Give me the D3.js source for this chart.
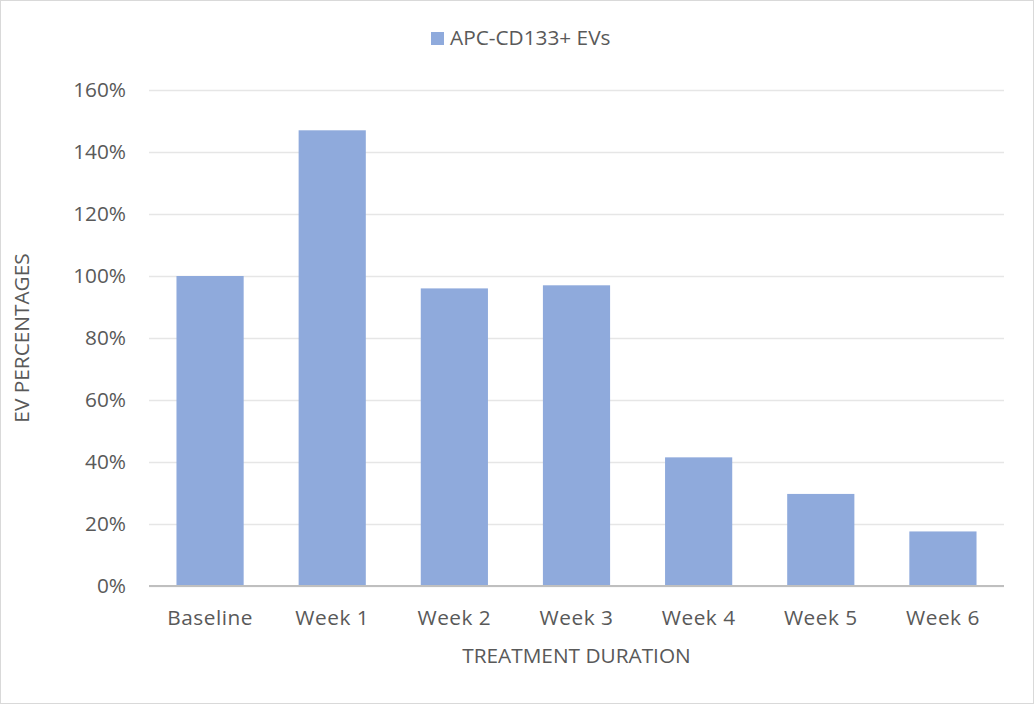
<!DOCTYPE html>
<html>
<head>
<meta charset="utf-8">
<script src="https://cdn.jsdelivr.net/npm/d3@7"></script>
<style>
  html, body { margin: 0; padding: 0; background: #fff; }
  svg { display: block; font-family: "Open Sans", "Liberation Sans", sans-serif; }
</style>
</head>
<body>
<svg id="chart" width="1034" height="704"></svg>
<script>
// Categories and values (percent of baseline)
const categories = ["Baseline", "Week 1", "Week 2", "Week 3", "Week 4", "Week 5", "Week 6"];
const values = [100, 147, 96, 97, 41.5, 29.7, 17.6];
const seriesName = "APC-CD133+ EVs";
const yTicks = [0, 20, 40, 60, 80, 100, 120, 140, 160];

const W = 1034, H = 704;
const margin = { left: 149, right: 30, top: 90, bottom: 118 };
const svg = d3.select("#chart");
const textColor = "#595959";
const barColor = "#8faadc";
const fs = 20.8;

// Outer frame
svg.append("rect")
  .attr("x", 0.5).attr("y", 0.5)
  .attr("width", W - 1).attr("height", H - 1)
  .attr("fill", "#fff").attr("stroke", "#d9d9d9");

const x = d3.scaleBand()
  .domain(categories)
  .range([margin.left, W - margin.right])
  .paddingInner(0.45).paddingOuter(0.225);

const y = d3.scaleLinear()
  .domain([0, 160])
  .range([H - margin.bottom, margin.top]);

// Gridlines and value labels
const yAxis = d3.axisLeft(y)
  .tickValues(yTicks)
  .tickSize(-(W - margin.right - margin.left))
  .tickPadding(23)
  .tickFormat(d => d + "%");

const gy = svg.append("g")
  .attr("transform", `translate(${margin.left},0)`)
  .call(yAxis)
  .attr("font-family", null)
  .attr("font-size", null);
gy.select(".domain").remove();
gy.selectAll(".tick line").attr("stroke", "#e6e6e6").attr("stroke-width", 1.3);
gy.selectAll(".tick text")
  .attr("fill", textColor)
  .attr("font-size", fs);

// Bars
svg.append("g").selectAll("rect")
  .data(categories.map((c, i) => ({ c, v: values[i] })))
  .join("rect")
  .attr("x", d => x(d.c))
  .attr("width", x.bandwidth())
  .attr("y", d => y(d.v))
  .attr("height", d => y(0) - y(d.v))
  .attr("fill", barColor);

// Category axis
const xAxis = d3.axisBottom(x).tickSize(0).tickPadding(24);
const gx = svg.append("g")
  .attr("transform", `translate(0,${y(0)})`)
  .call(xAxis)
  .attr("font-family", null)
  .attr("font-size", null);
gx.select(".domain").attr("stroke", "#bfbfbf").attr("stroke-width", 2)
  .attr("d", `M${margin.left},0H${W - margin.right}`);
gx.selectAll(".tick text")
  .attr("fill", textColor)
  .attr("font-size", fs)
  .attr("letter-spacing", 0.5);

// Axis titles
svg.append("text")
  .attr("x", (margin.left + W - margin.right) / 2)
  .attr("y", 663)
  .attr("text-anchor", "middle")
  .attr("fill", textColor)
  .attr("font-size", fs)
  .text("TREATMENT DURATION");

svg.append("text")
  .attr("transform", `translate(29,${338}) rotate(-90)`)
  .attr("text-anchor", "middle")
  .attr("fill", textColor)
  .attr("font-size", fs)
  .text("EV PERCENTAGES");

// Legend
const lg = svg.append("g").attr("transform", "translate(431,32)");
lg.append("rect").attr("width", 13).attr("height", 13).attr("fill", barColor);
lg.append("text")
  .attr("x", 19).attr("y", 13)
  .attr("fill", textColor)
  .attr("font-size", fs)
  .text(seriesName);
</script>
</body>
</html>
